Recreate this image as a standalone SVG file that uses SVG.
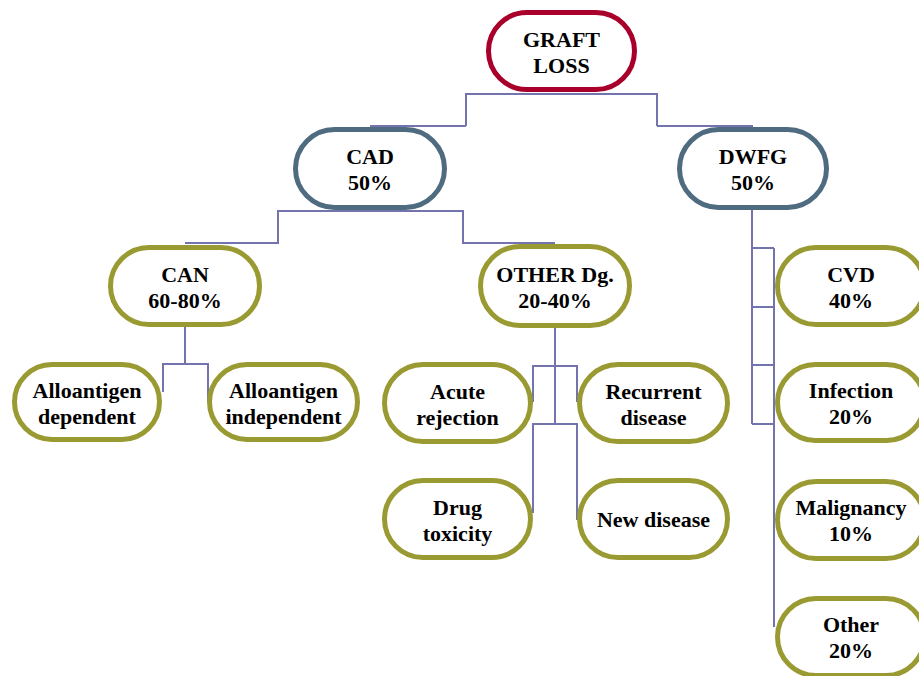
<svg xmlns="http://www.w3.org/2000/svg" width="919" height="676" viewBox="0 0 919 676">
<style>
.n{fill:#fff;stroke-width:5}
.r{stroke:#A8002A}
.b{stroke:#4E6B80}
.o{stroke:#9A9A32}
text{font-family:"Liberation Serif","Times New Roman",serif;font-weight:bold;font-size:22px;text-anchor:middle;fill:#000}
.c{fill:none;stroke:#7373AD;stroke-width:2}
</style>
<rect width="919" height="676" fill="#fff"/>
<g id="connectors" class="c">
<path d="M466,126 V94 H657 V126"/>
<path d="M370,126 H466"/>
<path d="M657,126 H753"/>
<path d="M185,243 H278 V211 H463 V243 H555"/>
<path d="M185,327 V364 M163,392 V364 H208 V402"/>
<path d="M555,328 V425 M533,402 V366 H577 V402 M533,513 V424 H577 V520"/>
<path d="M752,210 V424 M774,248 V627 M752,248 H774 M752,307 H774 M752,365 H774 M752,424 H774"/>
</g>
<g id="graft"><rect class="n r" x="488.5" y="12.5" width="146" height="77" rx="38.5"/><text x="561.5" y="47">GRAFT</text><text x="561.5" y="73">LOSS</text></g>
<g id="cad"><rect class="n b" x="295.5" y="129.5" width="149" height="78" rx="39"/><text x="370" y="164">CAD</text><text x="370" y="190">50%</text></g>
<g id="dwfg"><rect class="n b" x="679.5" y="129.5" width="147" height="78" rx="39"/><text x="753" y="164">DWFG</text><text x="753" y="190">50%</text></g>
<g id="can"><rect class="n o" x="110.5" y="247.5" width="149" height="77" rx="38.5"/><text x="185" y="282">CAN</text><text x="185" y="308">60-80%</text></g>
<g id="other-dg"><rect class="n o" x="480.5" y="246.5" width="149" height="79" rx="39.5"/><text x="555" y="282">OTHER Dg.</text><text x="555" y="308">20-40%</text></g>
<g id="allo-dep"><rect class="n o" x="14.5" y="364.5" width="145" height="75" rx="37.5"/><text x="87" y="398">Alloantigen</text><text x="87" y="424">dependent</text></g>
<g id="allo-indep"><rect class="n o" x="209.5" y="364.5" width="148" height="75" rx="37.5"/><text x="283.5" y="398">Alloantigen</text><text x="283.5" y="424">independent</text></g>
<g id="acute"><rect class="n o" x="384.5" y="364.5" width="146" height="77" rx="38.5"/><text x="457.5" y="399">Acute</text><text x="457.5" y="425">rejection</text></g>
<g id="recurrent"><rect class="n o" x="579.5" y="364.5" width="148" height="77" rx="38.5"/><text x="653.5" y="399">Recurrent</text><text x="653.5" y="425">disease</text></g>
<g id="drug"><rect class="n o" x="384.5" y="480.5" width="146" height="77" rx="38.5"/><text x="457.5" y="515">Drug</text><text x="457.5" y="541">toxicity</text></g>
<g id="new-disease"><rect class="n o" x="579.5" y="480.5" width="148" height="77" rx="38.5"/><text x="653.5" y="527">New disease</text></g>
<g id="cvd"><rect class="n o" x="777.5" y="247.5" width="147" height="77" rx="38.5"/><text x="851" y="282">CVD</text><text x="851" y="308">40%</text></g>
<g id="infection"><rect class="n o" x="777.5" y="364.5" width="147" height="76" rx="38"/><text x="851" y="398">Infection</text><text x="851" y="424">20%</text></g>
<g id="malignancy"><rect class="n o" x="777.5" y="481.5" width="147" height="77" rx="38.5"/><text x="851" y="515">Malignancy</text><text x="851" y="541">10%</text></g>
<g id="other"><rect class="n o" x="777.5" y="598.5" width="147" height="77" rx="38.5"/><text x="851" y="632">Other</text><text x="851" y="658">20%</text></g>
</svg>
